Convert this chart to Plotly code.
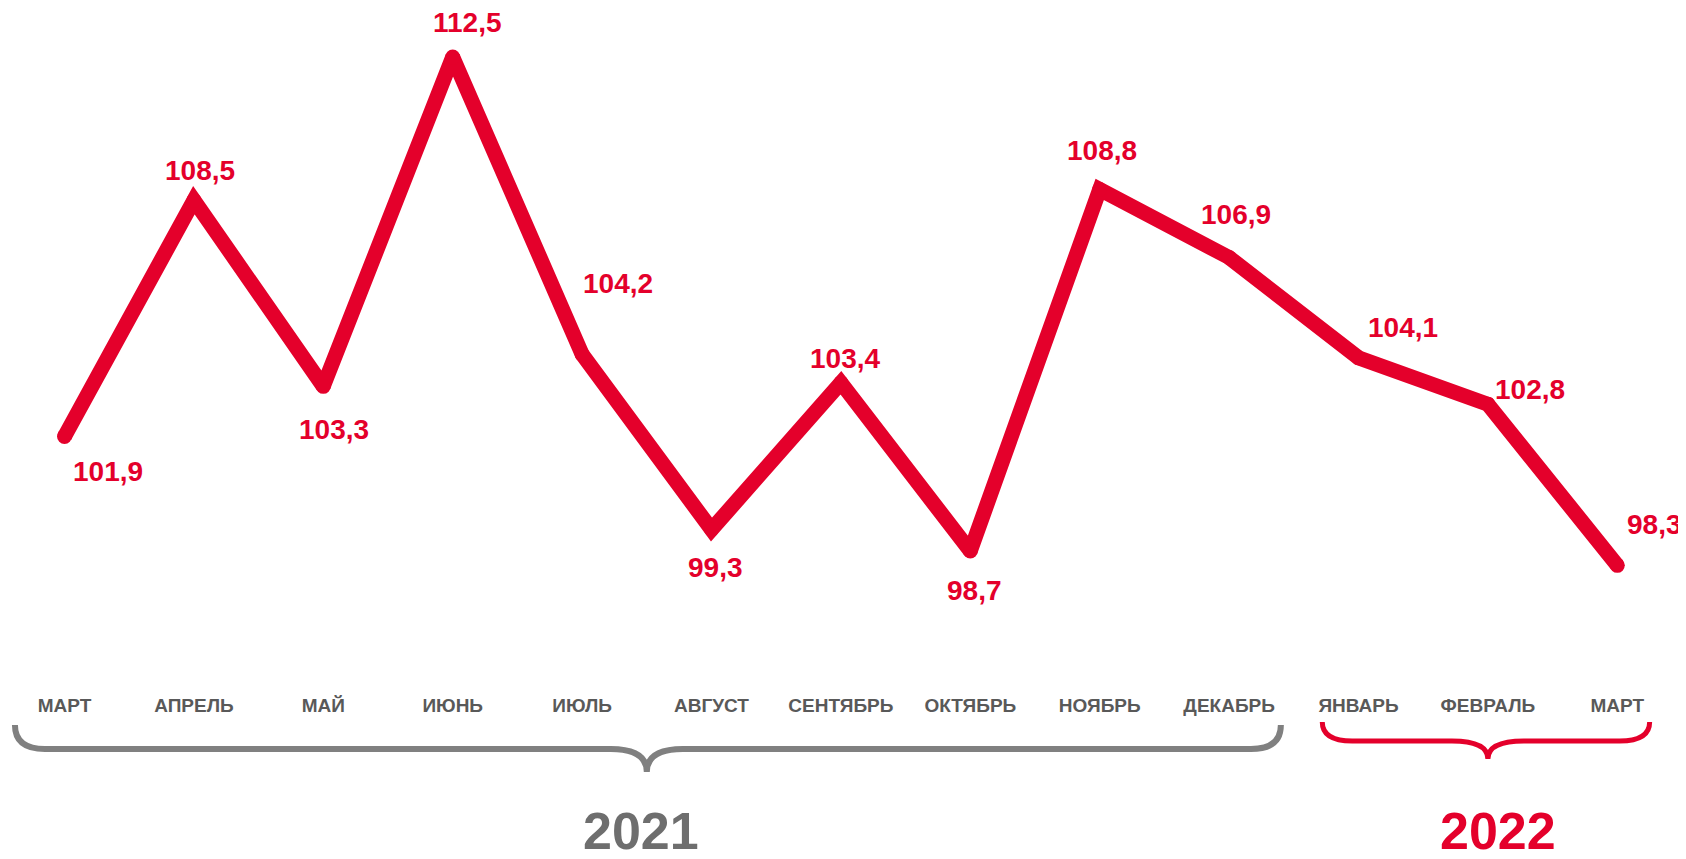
import plotly.graph_objects as go

months = ["МАРТ", "АПРЕЛЬ", "МАЙ", "ИЮНЬ", "ИЮЛЬ", "АВГУСТ", "СЕНТЯБРЬ",
          "ОКТЯБРЬ", "НОЯБРЬ", "ДЕКАБРЬ", "ЯНВАРЬ", "ФЕВРАЛЬ", "МАРТ"]
values = [101.9, 108.5, 103.3, 112.5, 104.2, 99.3, 103.4, 98.7, 108.8, 106.9, 104.1, 102.8, 98.3]
years = ["2021", "2022"]
year_groups = [(0, 9), (10, 12)]  # first and last month index of each year

# label offsets in pixels (style only)
label_dx = [43, 6, 11, 15, 36, 4, 4, 4, 2, 7, 44, 42, 37]
label_dy = [-35, 30, -43, 35, 71, -38, 24, -39, 39, 43, 30, 15, 41]

RED = "#e4002b"
GREY_TXT = "#595959"
GREY_BRACE = "#808080"
FONT = "Liberation Sans, Arial, sans-serif"

OFF = 8  # default page body margin of the html
W, H = 1686 - OFF, 859 - OFF
PLOT_BOTTOM = 692 - OFF
idx = list(range(len(months)))

fig = go.Figure()
fig.add_trace(go.Scatter(
    x=idx, y=values, mode="lines+markers",
    line=dict(color=RED, width=15),
    marker=dict(color=RED, size=15),
    hoverinfo="skip", showlegend=False,
))

annotations = []
for i, v in enumerate(values):
    annotations.append(dict(
        x=i, y=v, xref="x", yref="y",
        text=f"{v:.1f}".replace(".", ","),
        showarrow=False, xshift=label_dx[i], yshift=label_dy[i],
        font=dict(family=FONT, size=28, color=RED, weight="bold"),
    ))

px_per_unit = 129.4
def py2paper(py):
    return 1 - (py - OFF) / PLOT_BOTTOM

shapes = []
brace_specs = [
    dict(color=GREY_BRACE, pad_l=0.383, pad_r=0.40, ytop=725, yflat=749, ytip=772, width=6),
    dict(color=RED, pad_l=0.28, pad_r=0.25, ytop=722, yflat=741, ytip=759, width=5),
]
year_colors = ["#6e6e6e", RED]
for g, (a, b) in enumerate(year_groups):
    s = brace_specs[g]
    x0 = a - s["pad_l"]
    x1 = b + s["pad_r"]
    xc = (a + b) / 2
    rx = 30 / px_per_unit
    rm = 36 / px_per_unit
    yt, yf, yp = py2paper(s["ytop"]), py2paper(s["yflat"]), py2paper(s["ytip"])
    path = (f"M {x0},{yt} Q {x0},{yf} {x0 + rx},{yf} "
            f"L {xc - rm},{yf} Q {xc},{yf} {xc},{yp} "
            f"Q {xc},{yf} {xc + rm},{yf} "
            f"L {x1 - rx},{yf} Q {x1},{yf} {x1},{yt}")
    shapes.append(dict(type="path", xref="x", yref="paper", path=path,
                       line=dict(color=s["color"], width=s["width"])))
    annotations.append(dict(
        x=xc, y=py2paper(831), xref="x", yref="paper", text=years[g],
        showarrow=False, xshift=(-6 if g == 0 else 10),
        xanchor="center", yanchor="middle",
        font=dict(family=FONT, size=52, color=year_colors[g], weight="bold"),
    ))

x0_px = 64.5 - OFF
x_left = -x0_px / px_per_unit
x_right = (W - x0_px) / px_per_unit
y_scale = 35.8
top_px = 57 - OFF
y_top = 112.5 + top_px / y_scale
y_bot = 112.5 - (PLOT_BOTTOM - top_px) / y_scale

fig.update_layout(
    width=W, height=H,
    margin=dict(l=0, r=0, t=0, b=H - PLOT_BOTTOM),
    paper_bgcolor="white", plot_bgcolor="white",
    xaxis=dict(range=[x_left, x_right], tickvals=idx, ticktext=months,
               showgrid=False, zeroline=False, showline=False, ticks="",
               tickfont=dict(family=FONT, size=19, color=GREY_TXT, weight="bold"),
               fixedrange=True),
    yaxis=dict(range=[y_bot, y_top], visible=False, fixedrange=True),
    shapes=shapes, annotations=annotations, showlegend=False,
)

fig.write_html("out.html", config={"displayModeBar": False})
